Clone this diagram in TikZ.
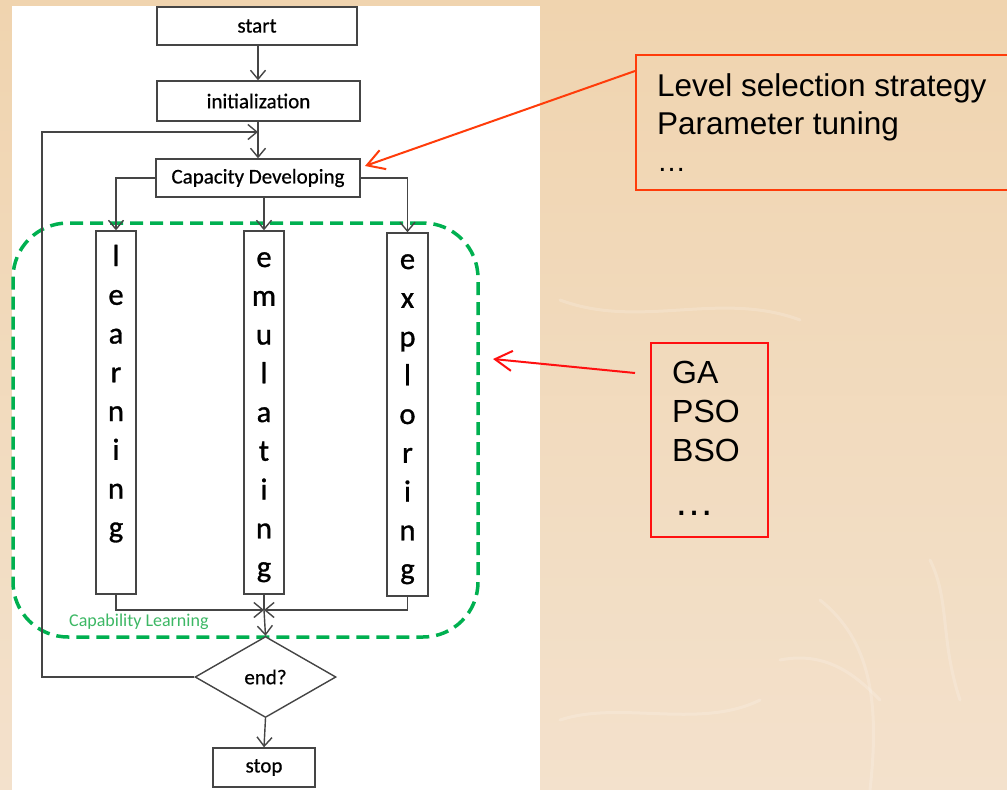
\documentclass[tikz,border=0pt]{standalone}
\usepackage{fontspec}
\setmainfont{Carlito}
\newfontfamily\flowfont[FakeBold=0.6]{Carlito}
\newfontfamily\letterfont[FakeBold=1.0]{Carlito}
\newfontfamily\arialf{Liberation Sans}
\usetikzlibrary{arrows.meta,shapes.geometric,calc}
\definecolor{bgA}{HTML}{F0D4AF}
\definecolor{bgB}{HTML}{F3E1CC}
\definecolor{flowline}{HTML}{454545}
\definecolor{capgreen}{HTML}{00B050}
\definecolor{caplabel}{HTML}{3DB865}
\definecolor{noteorange}{HTML}{FF3C0A}
\definecolor{notered}{HTML}{FF1010}
\begin{document}
\begin{tikzpicture}[x=1pt,y=-1pt,
  flow/.style={draw=flowline, line width=1.4pt},
  flowarrow/.style={flow, -{Straight Barb[length=9pt,width=15pt]}},
  stepbox/.style={draw=flowline, line width=1.4pt, fill=white, inner sep=0pt,
    font=\flowfont\fontsize{21}{25}\selectfont, text=black},
  colbox/.style={draw=flowline, line width=1.4pt, minimum width=40pt,
    minimum height=363pt, inner sep=0pt},
  letter/.style={anchor=base, inner sep=0pt, text=black,
    font=\letterfont\fontsize{30.5}{36}\selectfont},
  notebox/.style={line width=2pt, inner sep=0pt},
  notetext/.style={anchor=base west, inner sep=0pt, text=black},
  notearrow/.style={line width=2pt, -{Straight Barb[length=17pt,width=20pt]}}
]
\useasboundingbox (0,0) rectangle (1007,790);
\clip (0,0) rectangle (1007,790);

% background
\shade[top color=bgA, bottom color=bgB] (0,0) rectangle (1007,790);
\begin{scope}[white, opacity=0.18, line width=3pt, line cap=round]
  \draw (560,300) .. controls (640,330) and (720,290) .. (800,320);
  \draw (820,600) .. controls (870,640) and (880,700) .. (870,790);
  \draw (780,660) .. controls (830,650) and (860,680) .. (880,700);
  \draw (930,560) .. controls (950,600) and (940,640) .. (960,700);
  \draw (560,720) .. controls (620,700) and (700,730) .. (760,700);
\end{scope}

% white panel
\fill[white] (12,6) rectangle (540,790);

% capability learning area
\node[draw=capgreen, line width=3.5pt, dash pattern=on 13pt off 7pt,
      rounded corners=55pt, minimum width=465pt, minimum height=414pt,
      inner sep=0pt] (caparea) at (245.5,430) {};
\node[anchor=base west, inner sep=0pt, text=caplabel,
      font=\fontsize{18}{21}\selectfont] (caplbl) at (69,626) {Capability Learning};

% flowchart nodes
\node[stepbox, minimum width=200pt, minimum height=38pt] (start) at (257,26) {start};
\node[stepbox, minimum width=203pt, minimum height=40pt] (init) at (258.5,101) {initialization};
\node[stepbox, minimum width=204pt, minimum height=38pt] (capdev) at (258,178) {Capacity Developing};
\node[colbox] (learnbox) at (116,412.5) {};
\node[colbox] (emubox) at (264,412.5) {};
\node[colbox, minimum width=41pt] (explbox) at (407.5,414.5) {};
\node[stepbox, shape=diamond, minimum width=141pt, minimum height=81pt] (endq) at (265.5,677) {end?};
\node[stepbox, minimum width=102pt, minimum height=39pt] (stop) at (264,767.5) {stop};

% vertical words
\foreach \c [count=\i] in {l,e,a,r,n,i,n,g}
  \node[letter] (lrn\i) at (116,{266+(\i-1)*38.75}) {\c};
\foreach \c [count=\i] in {e,m,u,l,a,t,i,n,g}
  \node[letter] (emu\i) at (264,{267+(\i-1)*38.75}) {\c};
\foreach \c [count=\i] in {e,x,p,l,o,r,i,n,g}
  \node[letter] (exp\i) at (407.5,{269+(\i-1)*38.75}) {\c};

% connectors
\coordinate (loopin) at (258,132);
\coordinate (merge) at (264,610);
\coordinate (loopbl) at (42,677);
\coordinate (looptl) at (42,132);
\draw[flowarrow] (start.south -| loopin) -- (init.north -| loopin);
\draw[flowarrow] (init.south -| loopin) -- (capdev.north -| loopin);
\draw[flowarrow] (endq.west) -- (loopbl) -- (looptl) -- (loopin);
\draw[flowarrow] (capdev.west) -| (learnbox.north);
\draw[flowarrow] (capdev.south -| emubox.north) -- (emubox.north);
\draw[flowarrow] (capdev.east) -| (explbox.north);
\draw[flowarrow] (learnbox.south) |- (merge);
\draw[flowarrow] (explbox.south) |- (merge);
\draw[flow] (emubox.south) -- (merge);
\draw[flowarrow] (merge) -- (endq.north);
\draw[flowarrow] (endq.south) -- (stop.north);

% notes
\node[notebox, draw=noteorange, minimum width=380pt, minimum height=135pt] (note1) at (826,122.5) {};
\node[notetext, font=\arialf\fontsize{31.5}{36}\selectfont] (n1a) at (657,96) {Level selection strategy};
\node[notetext, font=\arialf\fontsize{31.5}{36}\selectfont] (n1b) at (657,134) {Parameter tuning};
\node[notetext, font=\arialf\fontsize{29}{34}\selectfont] (n1c) at (657,171) {…};

\node[notebox, draw=notered, minimum width=117pt, minimum height=194pt] (note2) at (709.5,440) {};
\node[notetext, font=\arialf\fontsize{32}{38}\selectfont] (n2a) at (672,383) {GA};
\node[notetext, font=\arialf\fontsize{32}{38}\selectfont] (n2b) at (672,422) {PSO};
\node[notetext, font=\arialf\fontsize{32}{38}\selectfont] (n2c) at (672,461) {BSO};
\node[notetext, font=\arialf\fontsize{40}{46}\selectfont] (n2d) at (674,515) {…};

\coordinate (tip1) at (365,166);
\coordinate (tip2) at (493,359);
\draw[notearrow, noteorange] ($(note1.north west)+(0,17)$) -- (tip1);
\draw[notearrow, notered] ($(note2.north west)+(-15,31)$) -- (tip2);
\end{tikzpicture}
\end{document}
